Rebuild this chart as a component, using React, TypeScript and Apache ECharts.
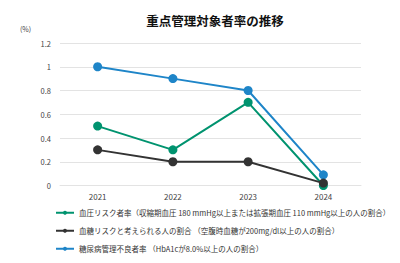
import React, { useEffect, useRef } from "react";
import * as echarts from "echarts";

const years = ["2021", "2022", "2023", "2024"];
const bpRisk = [0.5, 0.3, 0.7, 0];
const glucoseRisk = [0.3, 0.2, 0.2, 0.02];
const diabetesPoor = [1.0, 0.9, 0.8, 0.09];
const seriesNames = [
  "血圧リスク者率（収縮期血圧 180 mmHg以上または拡張期血圧 110 mmHg以上の人の割合）",
  "血糖リスクと考えられる人の割合 （空腹時血糖が200mg/dl以上の人の割合）",
  "糖尿病管理不良者率 （HbA1cが8.0%以上の人の割合）",
];

const FONT = "'Noto Sans CJK JP', 'Noto Sans', sans-serif";

export default function App() {
  const ref = useRef<HTMLDivElement>(null);
  useEffect(() => {
    if (!ref.current) return;
    const chart = echarts.init(ref.current, null, { renderer: "svg" });
    const mk = (name: string, data: number[], color: string, z: number) => ({
      name,
      type: "line",
      data,
      symbol: "circle",
      symbolSize: 9,
      z,
      lineStyle: { color, width: 2 },
      itemStyle: { color },
    });
    const legendTops = [209, 227, 245];
    chart.setOption({
      animation: false,
      textStyle: { fontFamily: FONT },
      title: {
        text: "重点管理対象者率の推移",
        left: 210,
        textAlign: "center",
        top: 9,
        textStyle: { fontSize: 12.5, fontWeight: "bold", color: "#111", fontFamily: FONT },
      },
      graphic: [
        {
          type: "text",
          left: 20,
          top: 25,
          style: { text: "(%)", fontSize: 7, fill: "#444", fontFamily: FONT },
        },
      ],
      grid: { left: 60, right: 39, top: 43, bottom: 77.5 },
      xAxis: {
        type: "category",
        data: years,
        boundaryGap: true,
        axisLine: { lineStyle: { color: "#e3e3e3" } },
        axisTick: { show: false },
        axisLabel: { color: "#444", fontSize: 8, margin: 7 },
      },
      yAxis: {
        type: "value",
        min: 0,
        max: 1.2,
        interval: 0.2,
        axisLine: { show: false },
        axisTick: { show: false },
        splitLine: { lineStyle: { color: "#e3e3e3" } },
        axisLabel: {
          color: "#444",
          fontSize: 7.5,
          margin: 9,
          formatter: (v: number) => String(Math.round(v * 10) / 10),
        },
      },
      legend: seriesNames.map((n, i) => ({
        orient: "horizontal",
        left: 55,
        top: legendTops[i],
        padding: 0,
        itemWidth: 18,
        itemHeight: 5,
        textStyle: { fontSize: 7.5, color: "#333", fontFamily: FONT },
        data: [n],
      })),
      series: [
        mk(seriesNames[0], bpRisk, "#00936f", 3),
        mk(seriesNames[1], glucoseRisk, "#333333", 4),
        mk(seriesNames[2], diabetesPoor, "#1e85c8", 2),
      ],
    });
    return () => chart.dispose();
  }, []);
  return <div ref={ref} style={{ width: 400, height: 263, margin: -8 }} />;
}
